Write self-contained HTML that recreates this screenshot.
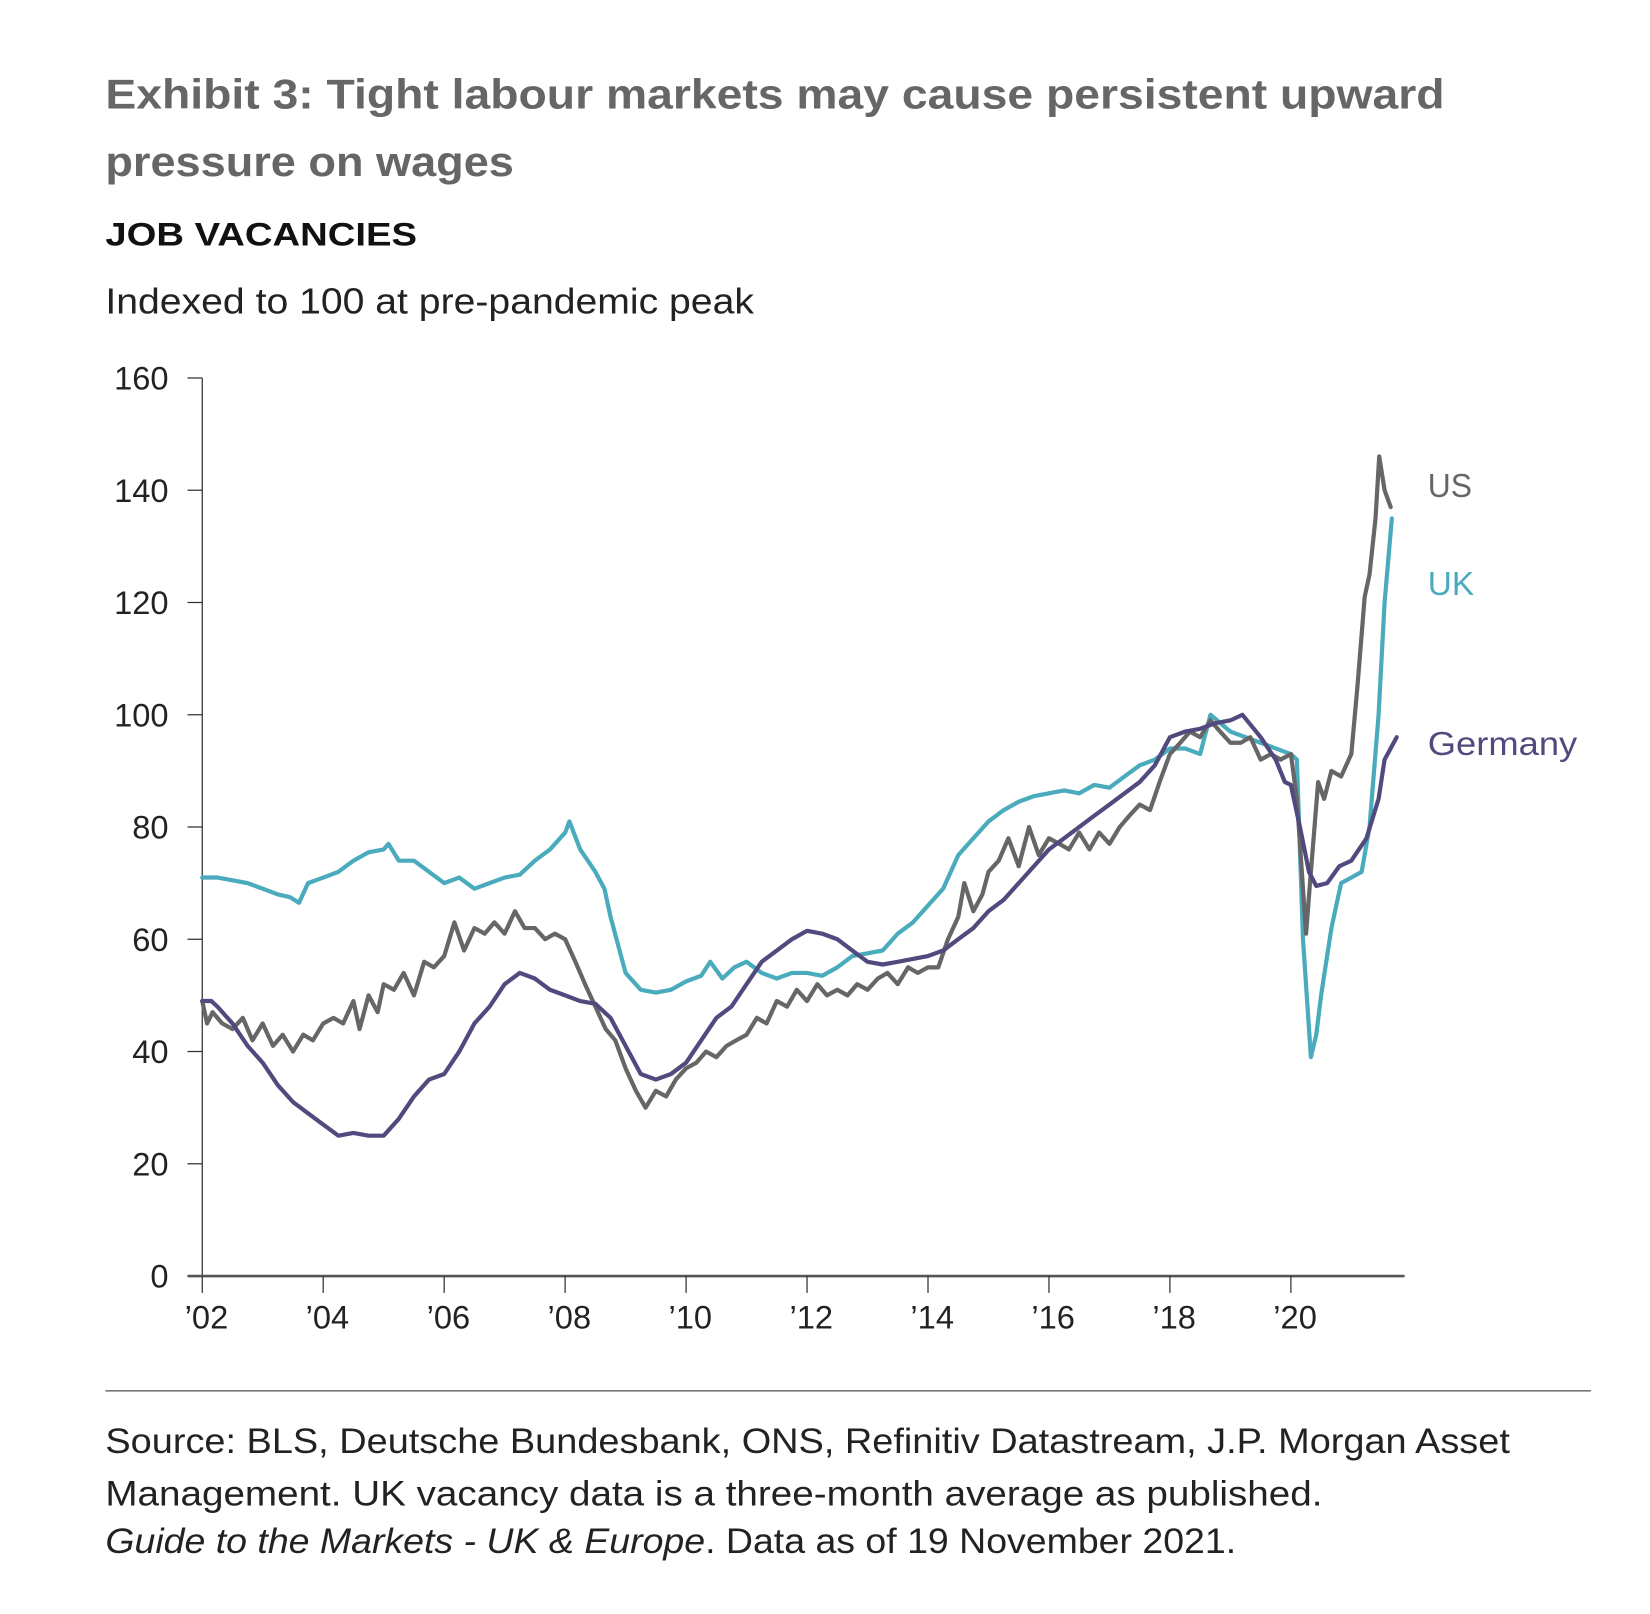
<!DOCTYPE html>
<html><head><meta charset="utf-8"><style>
html,body{margin:0;padding:0;background:#fff;}
svg{display:block;}
text{font-family:"Liberation Sans Narrow","Liberation Sans",sans-serif;}
</style></head><body>
<svg id="chart" width="1650" height="1614" viewBox="0 0 1567 1533" xmlns="http://www.w3.org/2000/svg">
<text x="100" y="103" font-size="40" font-weight="bold" fill="#666" textLength="1272" lengthAdjust="spacingAndGlyphs">Exhibit 3: Tight labour markets may cause persistent upward</text>
<text x="100" y="167" font-size="40" font-weight="bold" fill="#666" textLength="388" lengthAdjust="spacingAndGlyphs">pressure on wages</text>
<text x="100" y="233" font-size="31" font-weight="bold" fill="#111" textLength="296" lengthAdjust="spacingAndGlyphs">JOB VACANCIES</text>
<text x="100" y="298" font-size="34" fill="#222" textLength="616" lengthAdjust="spacingAndGlyphs">Indexed to 100 at pre-pandemic peak</text>
<g id="axes"></g>
<g id="series"></g>
<text x="1356" y="472" font-size="32" fill="#666" textLength="42" lengthAdjust="spacingAndGlyphs">US</text>
<text x="1356" y="565" font-size="32" fill="#4aabbd" textLength="44" lengthAdjust="spacingAndGlyphs">UK</text>
<text x="1356" y="717" font-size="32" fill="#524a7e" textLength="142" lengthAdjust="spacingAndGlyphs">Germany</text>
<line x1="100" y1="1321" x2="1511" y2="1321" stroke="#777" stroke-width="1.5"/>
<text x="100" y="1380" font-size="33" fill="#222" textLength="1334" lengthAdjust="spacingAndGlyphs">Source: BLS, Deutsche Bundesbank, ONS, Refinitiv Datastream, J.P. Morgan Asset</text>
<text x="100" y="1430" font-size="33" fill="#222" textLength="1156" lengthAdjust="spacingAndGlyphs">Management. UK vacancy data is a three-month average as published.</text>
<text x="100" y="1475" font-size="33" fill="#222" textLength="1074" lengthAdjust="spacingAndGlyphs"><tspan font-style="italic">Guide to the Markets - UK &amp; Europe</tspan>. Data as of 19 November 2021.</text>
</svg>
<script>
const yTicks=[0,20,40,60,80,100,120,140,160];
const xTickYears=[2002,2004,2006,2008,2010,2012,2014,2016,2018,2020];
const xTickLabels=["’02","’04","’06","’08","’10","’12","’14","’16","’18","’20"];
const ukDates=[
2002,2002.25,2002.5,2002.75,
2003,2003.25,2003.45,2003.6,2003.75,
2004,2004.25,2004.5,2004.75,
2005,2005.08,2005.25,2005.5,2005.75,
2006,2006.25,2006.5,2006.75,
2007,2007.25,2007.5,2007.75,
2008,2008.07,2008.25,2008.5,2008.65,2008.75,
2009,2009.25,2009.5,2009.75,
2010,2010.25,2010.4,2010.6,2010.8,
2011,2011.25,2011.5,2011.75,
2012,2012.25,2012.5,2012.75,
2013,2013.25,2013.5,2013.75,
2014,2014.25,2014.5,2014.75,
2015,2015.25,2015.5,2015.75,
2016,2016.25,2016.5,2016.75,
2017,2017.25,2017.5,2017.75,
2018,2018.25,2018.5,2018.67,
2019,2019.25,2019.5,2019.75,
2020,2020.1,2020.2,2020.33,2020.42,2020.5,2020.67,2020.83,
2021,2021.17,2021.3,2021.45,2021.55,2021.67];
const ukValues=[
71,71,70.5,70,
69,68,67.5,66.5,70,
71,72,74,75.5,
76,77,74,74,72,
70,71,69,70,
71,71.5,74,76,
79,81,76,72,69,64,
54,51,50.5,51,
52.5,53.5,56,53,55,
56,54,53,54,
54,53.5,55,57,
57.5,58,61,63,
66,69,75,78,
81,83,84.5,85.5,
86,86.5,86,87.5,
87,89,91,92,
94,94,93,100,
97,96,95,94,
93,92,60,39,43,50,62,70,
71,72,80,100,120,135];
const deDates=[
2002,2002.15,2002.25,2002.5,2002.75,
2003,2003.25,2003.5,2003.75,
2004,2004.25,2004.5,2004.75,
2005,2005.25,2005.5,2005.75,
2006,2006.25,2006.5,2006.75,
2007,2007.25,2007.5,2007.75,
2008,2008.25,2008.5,2008.75,
2009,2009.25,2009.5,2009.75,
2010,2010.25,2010.5,2010.75,
2011,2011.25,2011.5,2011.75,
2012,2012.25,2012.5,2012.75,
2013,2013.25,2013.5,2013.75,
2014,2014.25,2014.5,2014.75,
2015,2015.25,2015.5,2015.75,
2016,2016.25,2016.5,2016.75,
2017,2017.25,2017.5,2017.75,
2018,2018.25,2018.5,2018.75,
2019,2019.2,2019.5,2019.75,2019.9,
2020,2020.15,2020.3,2020.42,2020.6,2020.8,
2021,2021.25,2021.45,2021.55,2021.75];
const deValues=[
49,49,48,45,41,
38,34,31,29,
27,25,25.5,25,
25,28,32,35,
36,40,45,48,
52,54,53,51,
50,49,48.5,46,
41,36,35,36,
38,42,46,48,
52,56,58,60,
61.5,61,60,58,
56,55.5,56,56.5,
57,58,60,62,
65,67,70,73,
76,78,80,82,
84,86,88,91,
96,97,97.5,98.5,
99,100,96,92,88,
87.5,80,72,69.5,70,73,
74,78,85,92,96];
const usDates=[
2002,2002.08,2002.17,2002.33,2002.5,2002.67,2002.83,
2003,2003.17,2003.33,2003.5,2003.67,2003.83,
2004,2004.17,2004.33,2004.5,2004.6,2004.75,2004.9,
2005,2005.17,2005.33,2005.5,2005.67,2005.83,
2006,2006.17,2006.33,2006.5,2006.67,2006.83,
2007,2007.17,2007.33,2007.5,2007.67,2007.83,
2008,2008.17,2008.33,2008.5,2008.67,2008.83,
2009,2009.17,2009.33,2009.5,2009.67,2009.83,
2010,2010.17,2010.33,2010.5,2010.67,2010.83,
2011,2011.17,2011.33,2011.5,2011.67,2011.83,
2012,2012.17,2012.33,2012.5,2012.67,2012.83,
2013,2013.17,2013.33,2013.5,2013.67,2013.83,
2014,2014.17,2014.33,2014.5,2014.6,2014.75,2014.9,
2015,2015.17,2015.33,2015.5,2015.67,2015.83,
2016,2016.17,2016.33,2016.5,2016.67,2016.83,
2017,2017.17,2017.33,2017.5,2017.67,2017.83,
2018,2018.17,2018.33,2018.5,2018.67,2018.83,
2019,2019.17,2019.33,2019.5,2019.67,2019.83,
2020,2020.1,2020.25,2020.33,2020.45,2020.55,2020.67,2020.83,
2021,2021.1,2021.22,2021.3,2021.4,2021.46,2021.55,2021.65];
const usValues=[
49,45,47,45,44,46,42,
45,41,43,40,43,42,
45,46,45,49,44,50,47,
52,51,54,50,56,55,
57,63,58,62,61,63,
61,65,62,62,60,61,
60,56,52,48,44,42,
37,33,30,33,32,35,
37,38,40,39,41,42,
43,46,45,49,48,51,
49,52,50,51,50,52,
51,53,54,52,55,54,
55,55,60,64,70,65,68,
72,74,78,73,80,75,
78,77,76,79,76,79,
77,80,82,84,83,88,
93,95,97,96,99,97,
95,95,96,92,93,92,
93,85,61,72,88,85,90,89,
93,105,121,125,135,146,140,137];

const X0=192,X1=1334,Y0=1212,YTOP=359;
function xs(yr){return X0+(yr-2002)*((1226-192)/18);}
function ys(v){return Y0-(v/160)*(Y0-YTOP);}
const NS="http://www.w3.org/2000/svg";
const axes=document.getElementById('axes');
function mk(tag,attrs,parent){const e=document.createElementNS(NS,tag);for(const k in attrs)e.setAttribute(k,attrs[k]);parent.appendChild(e);return e;}
const yAxis=mk('line',{x1:X0,y1:YTOP,x2:X0,y2:Y0,stroke:'#333','stroke-width':1.2},axes);


yTicks.forEach(v=>{
  const t=mk('line',{x1:X0-14,y1:ys(v),x2:X0,y2:ys(v),stroke:'#333','stroke-width':1.2},axes);
  
  
  const l=mk('text',{x:160,y:ys(v)+11,'font-size':31,fill:'#222','text-anchor':'end'},axes);
  l.textContent=v;
  
  
});
const xAxis=mk('line',{x1:X0-14,y1:Y0,x2:X1,y2:Y0,stroke:'#555','stroke-width':2.5},axes);


xTickYears.forEach((yr,i)=>{
  const t=mk('line',{x1:xs(yr),y1:Y0,x2:xs(yr),y2:Y0+16,stroke:'#333','stroke-width':1.2},axes);
  
  
  const l=mk('text',{x:xs(yr)+4,y:1262,'font-size':31,fill:'#222','text-anchor':'middle'},axes);
  l.textContent=xTickLabels[i];
  
  
});
const series=document.getElementById('series');
function line(d,v,color,name){
  const n=Math.min(d.length,v.length);
  let path='';
  for(let i=0;i<n;i++){path+=(i?'L':'M')+xs(d[i]).toFixed(1)+','+ys(v[i]).toFixed(1);}
  const p=mk('path',{d:path,fill:'none',stroke:color,'stroke-width':4,'stroke-linejoin':'round','stroke-linecap':'round'},series);
  
  
}
line(ukDates,ukValues,'#4aabbd','uk-line');
line(usDates,usValues,'#666666','us-line');
line(deDates,deValues,'#524a7e','germany-line');
</script>
</body></html>
